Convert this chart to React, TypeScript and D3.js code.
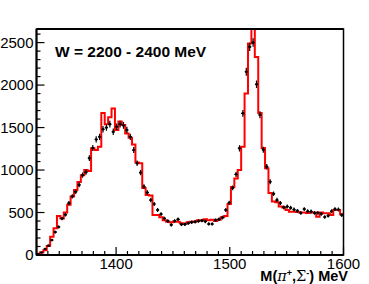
import React, { useRef, useEffect } from 'react';
import * as d3 from 'd3';

// M(pi+ Sigma-) spectrum, 90 bins of 3 MeV from 1330 to 1600 MeV
const xMin = 1330;
const xMax = 1600;
const nBins = 90;

// fitted / simulated histogram (red line)
const fitCounts = [
  10, 30, 55, 105, 215, 315, 460, 430, 500, 590,
  690, 765, 860, 940, 1000, 990, 1255, 1235, 1275, 1670,
  1540, 1620, 1725, 1470, 1570, 1530, 1430, 1380, 1300, 1090,
  1080, 790, 705, 700, 470, 470, 445, 410, 390, 385,
  395, 390, 375, 370, 385, 390, 395, 410, 405, 420,
  410, 415, 400, 415, 445, 460, 600, 800, 900, 1000,
  1275, 1900, 2490, 3000, 2330, 1670, 1260, 1020, 730, 630,
  620, 570, 560, 530, 510, 510, 505, 500, 500, 495,
  500, 500, 450, 500, 490, 490, 470, 530, 530, 480,
];

// measured counts (black points)
const dataCounts = [
  10, 30, 70, 110, 176, 270, 330, 430, 475, 610,
  690, 745, 825, 940, 975, 1140, 1260, 1360, 1390, 1480,
  1500, 1540, 1450, 1510, 1540, 1525, 1470, 1390, 1235, 1080,
  970, 805, 735, 647, 600, 530, 482, 430, 400, 355,
  400, 420, 360, 360, 375, 385, 390, 400, 405, 395,
  365, 365, 410, 420, 440, 530, 615, 790, 950, 1255,
  1667, 2157, 2450, 2500, 2010, 1650, 1240, 1040, 862, 720,
  647, 612, 560, 570, 555, 535, 520, 495, 540, 515,
  512, 495, 495, 485, 447, 462, 515, 540, 535, 470,
];

const yTicks = [0, 500, 1000, 1500, 2000, 2500];
const xTicks = [1400, 1500, 1600];
const titleText = 'W = 2200 - 2400 MeV';

const width = 369;
const height = 284;

const App: React.FC = () => {
  const svgRef = useRef<SVGSVGElement>(null);

  useEffect(() => {
    if (!svgRef.current) return;
    const svg = d3.select(svgRef.current);
    svg.selectAll('*').remove();

    const left = 36.5;
    const right = 343.5;
    const top = 29;
    const bottom = 255;
    const font = "'Liberation Sans', Arial, Helvetica, sans-serif";

    const x = d3.scaleLinear().domain([xMin, xMax]).range([left, right]);
    const y = d3.scaleLinear().domain([0, 2660]).range([bottom, top]);
    const binW = (xMax - xMin) / nBins;

    svg.append('defs')
      .append('clipPath')
      .attr('id', 'frame-clip')
      .append('rect')
      .attr('x', left)
      .attr('y', top)
      .attr('width', right - left)
      .attr('height', bottom - top);

    // red histogram outline
    const steps: [number, number][] = fitCounts.map((v, i) => [xMin + i * binW, v]);
    steps.push([xMax, fitCounts[nBins - 1]]);
    steps.unshift([xMin, 0]);
    const line = d3.line<[number, number]>()
      .x(d => x(d[0]))
      .y(d => y(d[1]))
      .curve(d3.curveStepAfter);

    svg.append('path')
      .datum(steps)
      .attr('clip-path', 'url(#frame-clip)')
      .attr('fill', 'none')
      .attr('stroke', '#ff0000')
      .attr('stroke-width', 2)
      .attr('d', line);

    // data points with statistical error bars
    const pts = svg.append('g').attr('clip-path', 'url(#frame-clip)');
    dataCounts.forEach((v, i) => {
      const cx = x(xMin + (i + 0.5) * binW);
      const err = Math.sqrt(v);
      pts.append('line')
        .attr('x1', cx).attr('x2', cx)
        .attr('y1', y(v - err)).attr('y2', y(v + err))
        .attr('stroke', '#000')
        .attr('stroke-width', 1.2);
      pts.append('line')
        .attr('x1', cx - 1.6).attr('x2', cx + 1.6)
        .attr('y1', y(v)).attr('y2', y(v))
        .attr('stroke', '#000')
        .attr('stroke-width', 1.2);
      pts.append('circle')
        .attr('cx', cx).attr('cy', y(v))
        .attr('r', 1.3)
        .attr('fill', '#000');
    });

    // frame
    svg.append('rect')
      .attr('x', left).attr('y', top)
      .attr('width', right - left).attr('height', bottom - top)
      .attr('fill', 'none')
      .attr('stroke', '#000')
      .attr('stroke-width', 1.5);
    svg.append('line')
      .attr('x1', left).attr('x2', left)
      .attr('y1', top).attr('y2', bottom)
      .attr('stroke', '#000').attr('stroke-width', 2);
    svg.append('line')
      .attr('x1', left).attr('x2', right)
      .attr('y1', bottom).attr('y2', bottom)
      .attr('stroke', '#000').attr('stroke-width', 2);
    svg.append('line')
      .attr('x1', left).attr('x2', right)
      .attr('y1', top).attr('y2', top)
      .attr('stroke', '#000').attr('stroke-width', 2);

    // y ticks: major every 500, minor every 100
    const yMinor = d3.range(0, 2660, 100);
    svg.append('g').selectAll('line')
      .data(yMinor)
      .join('line')
      .attr('x1', left)
      .attr('x2', d => left + (d % 500 === 0 ? 8 : 4))
      .attr('y1', d => y(d)).attr('y2', d => y(d))
      .attr('stroke', '#000').attr('stroke-width', 1.2);

    svg.append('g').selectAll('text')
      .data(yTicks)
      .join('text')
      .attr('x', 33.5)
      .attr('y', d => y(d) + 5.4)
      .attr('text-anchor', 'end')
      .style('font-family', font)
      .style('font-size', '15px')
      .text(d => String(d));

    // x ticks: major every 100, minor every 10
    const xMinor = d3.range(1340, 1601, 10);
    svg.append('g').selectAll('line')
      .data(xMinor)
      .join('line')
      .attr('x1', d => x(d)).attr('x2', d => x(d))
      .attr('y1', bottom)
      .attr('y2', d => bottom - (d % 100 === 0 ? 8 : 4))
      .attr('stroke', '#000').attr('stroke-width', 1.2);

    svg.append('g').selectAll('text')
      .data(xTicks)
      .join('text')
      .attr('x', d => x(d))
      .attr('y', 269)
      .attr('text-anchor', 'middle')
      .style('font-family', font)
      .style('font-size', '15px')
      .text(d => String(d));

    // axis title M(pi+, Sigma-) MeV
    const xt = svg.append('text')
      .attr('x', 348)
      .attr('y', 280.5)
      .attr('text-anchor', 'end')
      .style('font-family', font)
      .style('font-size', '14.5px')
      .style('font-weight', 'bold');
    xt.append('tspan').text('M(');
    xt.append('tspan').style('font-family', "'DejaVu Serif', serif").style('font-style', 'italic').style('font-weight', 'normal').text('π');
    xt.append('tspan').attr('dy', -5).style('font-size', '9px').text('+');
    xt.append('tspan').attr('dy', 5).text(',');
    xt.append('tspan').style('font-family', "'DejaVu Serif', serif").style('font-weight', 'normal').text('Σ');
    xt.append('tspan').attr('dy', -5).style('font-size', '9px').text('-');
    xt.append('tspan').attr('dy', 5).text(') MeV');

    // energy range label
    svg.append('text')
      .attr('x', 55)
      .attr('y', 57)
      .style('font-family', font)
      .style('font-size', '15.5px')
      .style('font-weight', 'bold')
      .text(titleText);
  }, []);

  return (
    <div style={{ position: 'fixed', left: 0, top: 0, width, height, background: '#fff' }}>
      <svg ref={svgRef} width={width} height={height} style={{ display: 'block' }} />
    </div>
  );
};

export default App;
